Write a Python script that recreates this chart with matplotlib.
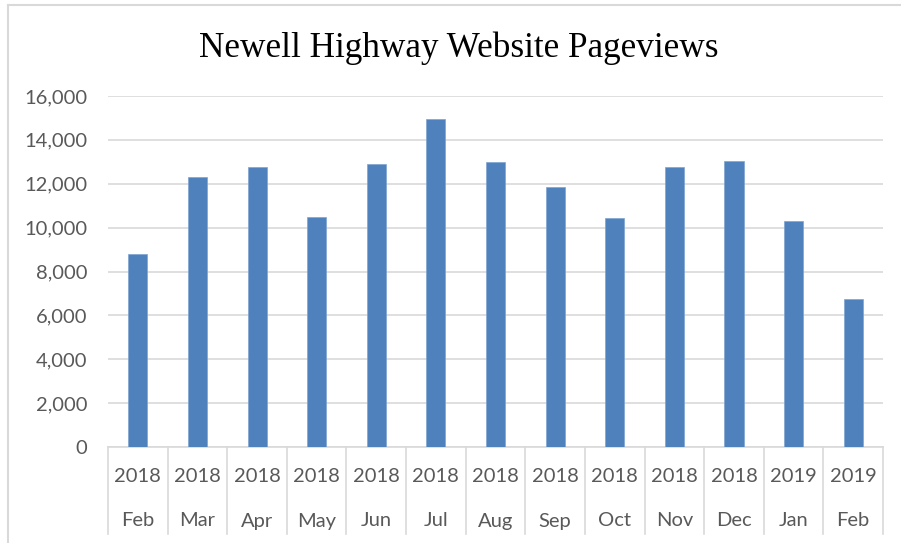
import matplotlib
matplotlib.use("Agg")
import matplotlib.pyplot as plt
from matplotlib.lines import Line2D
from matplotlib.ticker import FuncFormatter

# --- Data ---
years = ["2018", "2018", "2018", "2018", "2018", "2018", "2018",
         "2018", "2018", "2018", "2018", "2019", "2019"]
months = ["Feb", "Mar", "Apr", "May", "Jun", "Jul", "Aug",
          "Sep", "Oct", "Nov", "Dec", "Jan", "Feb"]
pageviews = [8800, 12300, 12750, 10500, 12900, 14950, 12980,
             11850, 10420, 12750, 13050, 10300, 6750]

GRID = "#d9d9d9"
TEXT = "#595959"
BAR = "#4f81bd"
LABEL_FONT = ["Lato", "DejaVu Sans"]

fig = plt.figure(figsize=(9.01, 5.43), dpi=100)
W, H = 901, 543

# plot area in pixels: x 108..883, y 96..447
ax = fig.add_axes([108 / W, 1 - 447 / H, (883 - 108) / W, (447 - 96) / H])

x = list(range(len(pageviews)))
ax.bar(x, pageviews, width=0.32, color=BAR, edgecolor="#7fa3d0", linewidth=0.5, zorder=3)

ax.set_xlim(-0.5, len(x) - 0.5)
ax.set_ylim(0, 16000)
ax.set_yticks(range(0, 16001, 2000))
ax.yaxis.set_major_formatter(FuncFormatter(lambda v, p: f"{int(v):,}"))
ax.grid(axis="y", color=GRID, linewidth=1.2, zorder=0)
ax.set_axisbelow(True)

for s in ["top", "right", "left"]:
    ax.spines[s].set_visible(False)
ax.spines["bottom"].set_color(GRID)
ax.spines["bottom"].set_linewidth(1.2)

ax.set_xticks([])
ax.tick_params(axis="y", length=0, pad=15, labelcolor=TEXT)
for lbl in ax.get_yticklabels():
    lbl.set_fontfamily(LABEL_FONT)
    lbl.set_fontsize(14.5)

# --- Two-level category axis ---
trans = ax.get_xaxis_transform()
ah = 447 - 96
for i, (yr, mo) in enumerate(zip(years, months)):
    ax.text(i, -29 / ah, yr, transform=trans, ha="center", va="center",
            fontsize=14.5, color=TEXT, family=LABEL_FONT)
    ax.text(i, -74 / ah, mo, transform=trans, ha="center", va="center",
            fontsize=14.5, color=TEXT, family=LABEL_FONT)
for b in range(len(x) + 1):
    ax.add_line(Line2D([b - 0.5, b - 0.5], [0, -87 / ah], transform=trans,
                       color=GRID, linewidth=1.2, clip_on=False))

# --- Title and chart border ---
fig.text(459 / W, 1 - 57 / H, "Newell Highway Website Pageviews",
         ha="center", va="baseline", fontsize=25.3, family="Liberation Serif", color="black")

fig.add_artist(Line2D([8 / W, 8 / W], [0, 1 - 5 / H], transform=fig.transFigure,
                      color=GRID, linewidth=1.5))
fig.add_artist(Line2D([8 / W, 1], [1 - 5 / H, 1 - 5 / H], transform=fig.transFigure,
                      color=GRID, linewidth=1.5))

fig.savefig("out.png", dpi=100)
